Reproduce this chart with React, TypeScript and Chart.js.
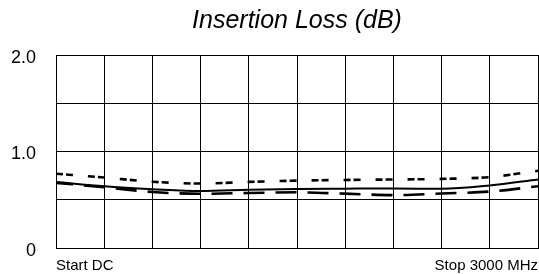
import React, { useEffect, useRef } from "react";
import { Chart, registerables } from "chart.js";

Chart.register(...registerables);

const TITLE = "Insertion Loss (dB)";
const frequenciesMHz = [0, 300, 600, 900, 1200, 1500, 1800, 2100, 2400, 2700, 3000];
const solidLoss = [0.685, 0.64, 0.61, 0.59, 0.603, 0.612, 0.615, 0.617, 0.613, 0.648, 0.71];
const shortDashLoss = [0.77, 0.73, 0.687, 0.668, 0.685, 0.698, 0.705, 0.71, 0.716, 0.735, 0.8];
const longDashLoss = [0.675, 0.63, 0.58, 0.562, 0.57, 0.577, 0.563, 0.548, 0.565, 0.585, 0.64];
const yTickLabels: Record<string, string> = { "0": "0", "1": "1.0", "2": "2.0" };
const xStartLabel = "Start DC";
const xStopLabel = "Stop 3000 MHz";

const FONT = "'Liberation Sans', Arial, sans-serif";

export default function App() {
  const ref = useRef<HTMLCanvasElement | null>(null);
  useEffect(() => {
    if (!ref.current) return;
    const toPts = (arr: number[]) => arr.map((v, i) => ({ x: frequenciesMHz[i], y: v }));
    const chart = new Chart(ref.current, {
      type: "line",
      data: {
        datasets: [
          {
            data: toPts(solidLoss),
            borderColor: "#000",
            borderWidth: 2,
            pointRadius: 0,
            cubicInterpolationMode: "monotone",
          },
          {
            data: toPts(shortDashLoss),
            borderColor: "#000",
            borderWidth: 2.6,
            borderDash: [7, 3, 7, 15],
            pointRadius: 0,
            cubicInterpolationMode: "monotone",
          },
          {
            data: toPts(longDashLoss),
            borderColor: "#000",
            borderWidth: 2.6,
            borderDash: [21, 11],
            borderDashOffset: 4,
            pointRadius: 0,
            cubicInterpolationMode: "monotone",
          },
        ],
      },
      options: {
        animation: false,
        responsive: false,
        devicePixelRatio: 1,
        layout: { padding: { left: 0, right: 1, top: 0, bottom: 0 } },
        plugins: {
          legend: { display: false },
          tooltip: { enabled: false },
          title: {
            display: true,
            text: TITLE,
            fullSize: false,
            color: "#000",
            font: { family: FONT, size: 25, style: "italic", weight: "normal" },
            padding: { top: 6, bottom: 19 },
          },
        },
        scales: {
          x: {
            type: "linear",
            min: 0,
            max: 3000,
            afterFit: (s: any) => {
              s.height = 26;
              s.paddingLeft = 0;
              s.paddingRight = 0;
            },
            ticks: {
              stepSize: 300,
              autoSkip: false,
              maxRotation: 0,
              minRotation: 0,
              align: "inner",
              padding: 9,
              color: "#000",
              font: { family: FONT, size: 15 },
              callback: (v: any) => (v === 0 ? xStartLabel : v === 3000 ? xStopLabel : ""),
            },
            grid: { color: "#000", lineWidth: 1, drawTicks: false },
            border: { display: true, color: "#000", width: 1 },
          },
          y: {
            type: "linear",
            min: 0,
            max: 2,
            afterFit: (s: any) => {
              s.width = 56;
              s.paddingTop = 0;
              s.paddingBottom = 0;
            },
            ticks: {
              stepSize: 0.5,
              autoSkip: false,
              padding: 20,
              labelOffset: 3,
              color: "#000",
              font: { family: FONT, size: 18 },
              callback: (v: any) => yTickLabels[String(v)] ?? "",
            },
            grid: { color: "#000", lineWidth: 1, drawTicks: false },
            border: { display: true, color: "#000", width: 1 },
          },
        },
      },
    });
    return () => chart.destroy();
  }, []);
  return (
    <div style={{ position: "fixed", left: 0, top: 0, width: 539, height: 274, background: "#fff" }}>
      <canvas ref={ref} width={539} height={274} style={{ display: "block" }} />
    </div>
  );
}
